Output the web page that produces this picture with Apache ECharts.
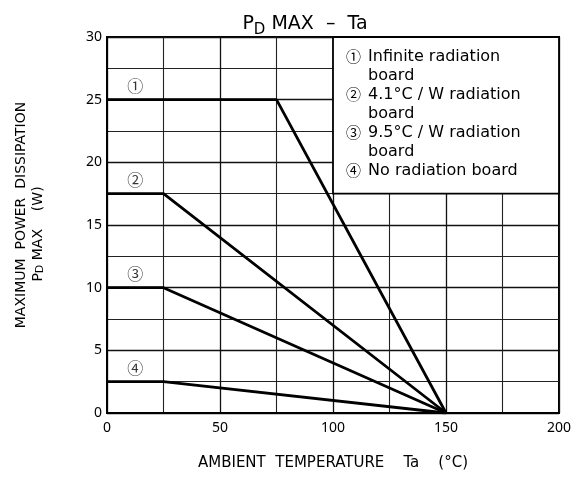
<!DOCTYPE html>
<html><head><meta charset="utf-8">
<script src="https://cdn.jsdelivr.net/npm/echarts@6/dist/echarts.min.js"></script>
<style>html,body{margin:0;padding:0;background:#fff}#c{width:577px;height:481px}</style>
</head><body><div id="c"></div>
<script>
const FONT = "'Noto Sans', 'Noto Sans CJK JP', sans-serif";
const CFONT = "'Noto Sans CJK JP', 'Noto Sans', sans-serif";
const WFONT = "'DejaVu Sans', 'Noto Sans CJK JP', sans-serif";
const xTicks = [0, 50, 100, 150, 200];
const yTicks = [0, 5, 10, 15, 20, 25, 30];
const curve1 = [[0, 25], [75, 25], [150, 0]];
const curve2 = [[0, 17.5], [25, 17.5], [150, 0]];
const curve3 = [[0, 10], [25, 10], [150, 0]];
const curve4 = [[0, 2.5], [25, 2.5], [150, 0]];
const curveTags = ['①', '②', '③', '④'];
const tagPos = [[12.5, 26.1], [12.5, 18.6], [12.5, 11.1], [12.5, 3.6]];
const legendLines = [
  ['①', 'Infinite radiation'], ['', 'board'],
  ['②', '4.1°C / W radiation'], ['', 'board'],
  ['③', '9.5°C / W radiation'], ['', 'board'],
  ['④', 'No radiation board']
];
const legendBox = [[100, 30], [200, 17.5]];

const curves = [curve1, curve2, curve3, curve4];
const series = curves.map(d => ({
  type: 'line', data: d, symbol: 'none', silent: true,
  lineStyle: { color: '#000', width: 2.8 }, z: 5
}));
series.push({
  type: 'scatter', data: tagPos.map((p, i) => ({ value: p, name: curveTags[i] })),
  symbolSize: 0, silent: true, z: 6,
  label: { show: true, position: 'inside', formatter: p => p.name, color: '#000', fontSize: 16, fontFamily: CFONT }
});
const legendText = legendLines.map(([c, t]) => (c ? '{c|' + c + '}' : '{g|}') + '{t|' + t + '}').join('\n');
series.push({
  type: 'line', data: [], silent: true, z: 3,
  markArea: {
    silent: true,
    itemStyle: { color: '#fff', borderColor: '#000', borderWidth: 1.8 },
    label: {
      show: true, position: 'insideTopLeft', distance: 0, padding: [11, 0, 0, 14],
      formatter: legendText, color: '#000', fontSize: 16, lineHeight: 19, fontFamily: WFONT,
      rich: {
        c: { fontSize: 15, fontFamily: CFONT, color: '#000', lineHeight: 19, width: 22 },
        g: { width: 22, lineHeight: 19 },
        t: { fontSize: 16, fontFamily: WFONT, color: '#000', lineHeight: 19 }
      }
    },
    data: [[{ coord: legendBox[0] }, { coord: legendBox[1] }]]
  }
});

const chart = echarts.init(document.getElementById('c'), null, { renderer: 'canvas' });
chart.setOption({
  animation: false,
  backgroundColor: '#fff',
  title: {
    text: '{p|P}{s|D}{p| MAX  –  Ta}', left: 300, top: 5, textAlign: 'center',
    textStyle: {
      fontWeight: 'normal',
      rich: {
        p: { fontSize: 19, fontWeight: 'normal', color: '#000', fontFamily: WFONT, lineHeight: 24, verticalAlign: 'bottom' },
        s: { fontSize: 15, fontWeight: 'normal', color: '#000', fontFamily: WFONT, lineHeight: 24, verticalAlign: 'bottom', padding: [0, 0, -4, 0] }
      }
    }
  },
  grid: { left: 107, right: 18, top: 37, bottom: 68, show: true, borderColor: '#000', borderWidth: 2, containLabel: false },
  xAxis: {
    type: 'value', min: xTicks[0], max: xTicks[xTicks.length - 1], interval: 50,
    name: 'AMBIENT  TEMPERATURE    Ta    (°C)', nameLocation: 'middle', nameGap: 43,
    nameTextStyle: { color: '#000', fontSize: 15, fontFamily: WFONT },
    axisLine: { lineStyle: { color: '#000', width: 2 } },
    axisTick: { show: false },
    axisLabel: { color: '#000', fontSize: 14, fontFamily: FONT, margin: 8 },
    splitLine: { show: true, lineStyle: { color: '#111', width: 1.3 } },
    minorTick: { show: false, splitNumber: 2 },
    minorSplitLine: { show: true, lineStyle: { color: '#222', width: 1.1 } }
  },
  yAxis: {
    type: 'value', min: yTicks[0], max: yTicks[yTicks.length - 1], interval: 5,
    name: '{l|MAXIMUM  POWER  DISSIPATION}\n{a|P}{s|D}{b| MAX    (W)}', nameLocation: 'middle', nameGap: 60, nameRotate: 90,
    nameTextStyle: {
      color: '#000', fontSize: 14, fontFamily: WFONT, lineHeight: 17, align: 'center',
      rich: {
        l: { fontSize: 14, color: '#000', fontFamily: WFONT, lineHeight: 17, padding: [0, 0, 0, 20] },
        a: { fontSize: 14, color: '#000', fontFamily: WFONT, lineHeight: 17 },
        s: { fontSize: 11, color: '#000', fontFamily: WFONT, lineHeight: 17, padding: [0, 0, -4, 0] },
        b: { fontSize: 14, color: '#000', fontFamily: WFONT, lineHeight: 17, padding: [0, 18, 0, 0] }
      }
    },
    axisLine: { lineStyle: { color: '#000', width: 2 } },
    axisTick: { show: false },
    axisLabel: { color: '#000', fontSize: 14, fontFamily: FONT, margin: 5 },
    splitLine: { show: true, lineStyle: { color: '#111', width: 1.3 } },
    minorTick: { show: false, splitNumber: 2 },
    minorSplitLine: { show: true, lineStyle: { color: '#222', width: 1.1 } }
  },
  series: series
});
</script></body></html>
